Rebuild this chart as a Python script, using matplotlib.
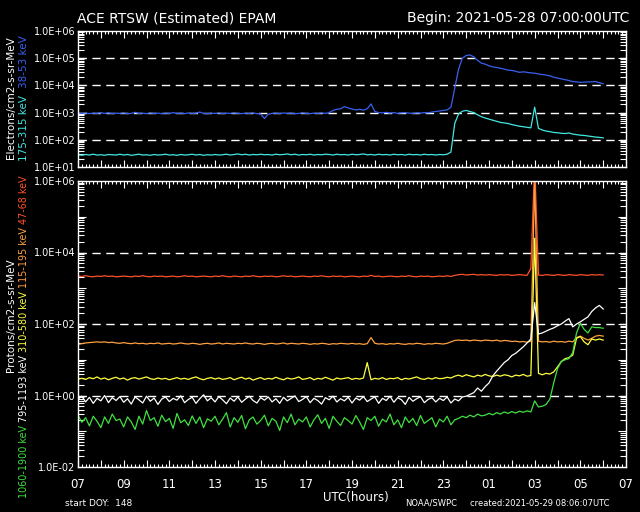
import numpy as np
import matplotlib
matplotlib.use('Agg')
import matplotlib.pyplot as plt
from matplotlib.ticker import LogLocator, FuncFormatter, MultipleLocator, NullFormatter

# time grid: 10-minute samples from 07:00 UTC (hours since start)
n_pts = 139
hours = np.arange(n_pts) / 6.0

# log10 fluxes, electrons/cm2-s-sr-MeV
e38_53 = [
    2.98, 2.97, 2.99, 2.96, 2.98, 2.97, 3.00, 2.97, 2.99, 2.96, 2.98, 2.97,
    2.99, 2.96, 2.97, 3.01, 2.97, 2.98, 2.96, 2.99, 2.97, 2.98, 2.96, 2.98,
    2.97, 3.00, 2.97, 2.98, 2.96, 2.99, 2.97, 2.98, 3.02, 2.97, 2.96, 2.98,
    2.97, 2.99, 2.96, 2.98, 2.97, 2.99, 2.97, 2.96, 2.98, 2.97, 2.99, 2.96,
    2.95, 2.78, 2.94, 2.97, 2.98, 2.96, 2.99, 2.97, 2.98, 2.96, 2.97, 2.99,
    2.97, 2.96, 2.98, 2.97, 2.99, 2.97, 3.00, 3.08, 3.12, 3.14, 3.22, 3.17,
    3.13, 3.10, 3.12, 3.09, 3.14, 3.32, 3.04, 3.00, 2.99, 3.01, 2.98, 3.00,
    2.97, 2.99, 3.00, 2.98, 2.97, 2.99, 2.98, 3.00, 2.99, 3.02, 3.04, 3.06,
    3.08, 3.10, 3.20, 3.90, 4.60, 5.00, 5.10, 5.12, 5.05, 4.92, 4.82, 4.78,
    4.72, 4.68, 4.66, 4.63, 4.60, 4.56, 4.55, 4.52, 4.48, 4.50, 4.48, 4.46,
    4.45, 4.42, 4.40, 4.38, 4.35, 4.30, 4.27, 4.24, 4.21, 4.18, 4.14, 4.13,
    4.11, 4.12, 4.13, 4.13, 4.14, 4.10, 4.06]
e175_315 = [
    1.45, 1.43, 1.46, 1.44, 1.47, 1.44, 1.45, 1.43, 1.46, 1.45, 1.44, 1.47,
    1.44, 1.46, 1.43, 1.45, 1.47, 1.44, 1.45, 1.43, 1.46, 1.44, 1.45, 1.47,
    1.44, 1.45, 1.43, 1.46, 1.44, 1.45, 1.47, 1.44, 1.46, 1.43, 1.45, 1.44,
    1.46, 1.44, 1.45, 1.47, 1.44, 1.46, 1.48, 1.45, 1.47, 1.44, 1.46, 1.45,
    1.47, 1.45, 1.46, 1.44, 1.47, 1.45, 1.46, 1.48, 1.45, 1.47, 1.44, 1.46,
    1.45, 1.47, 1.44, 1.46, 1.45, 1.47, 1.46, 1.44, 1.47, 1.45, 1.46, 1.44,
    1.47, 1.45, 1.46, 1.48, 1.45, 1.46, 1.44, 1.47, 1.45, 1.46, 1.44, 1.47,
    1.45, 1.46, 1.44, 1.47, 1.45, 1.46, 1.44, 1.47, 1.45, 1.46, 1.44, 1.46,
    1.45, 1.47, 1.55, 2.60, 2.95, 3.05, 3.08, 3.04, 3.00, 2.92, 2.85, 2.80,
    2.76, 2.72, 2.68, 2.64, 2.62, 2.60, 2.56, 2.53, 2.50, 2.48, 2.46, 2.44,
    3.20, 2.42, 2.36, 2.32, 2.30, 2.27, 2.26, 2.24, 2.23, 2.25, 2.21, 2.19,
    2.17, 2.16, 2.14, 2.12, 2.10, 2.09, 2.07]

# log10 fluxes, protons/cm2-s-sr-MeV
p47_68 = [
    3.34, 3.33, 3.35, 3.33, 3.32, 3.34, 3.33, 3.35, 3.33, 3.34, 3.32, 3.33,
    3.34, 3.33, 3.32, 3.34, 3.33, 3.35, 3.33, 3.32, 3.34, 3.33, 3.34, 3.32,
    3.33, 3.34, 3.32, 3.33, 3.35, 3.33, 3.34, 3.32, 3.33, 3.34, 3.33, 3.32,
    3.34, 3.33, 3.35, 3.33, 3.32, 3.34, 3.33, 3.32, 3.34, 3.33, 3.35, 3.33,
    3.32, 3.34, 3.33, 3.34, 3.32, 3.33, 3.35, 3.33, 3.34, 3.32, 3.33, 3.34,
    3.33, 3.32, 3.34, 3.33, 3.35, 3.33, 3.32, 3.34, 3.33, 3.34, 3.32, 3.33,
    3.34, 3.33, 3.32, 3.34, 3.33, 3.36, 3.33, 3.34, 3.32, 3.33, 3.34, 3.33,
    3.32, 3.34, 3.33, 3.35, 3.33, 3.32, 3.34, 3.33, 3.34, 3.32, 3.33, 3.34,
    3.33, 3.35, 3.33, 3.36, 3.38, 3.39, 3.37, 3.38, 3.39, 3.37, 3.38, 3.37,
    3.38, 3.37, 3.36, 3.38, 3.37, 3.38, 3.36, 3.37, 3.38, 3.37, 3.36, 3.55,
    6.50, 3.37, 3.36, 3.38, 3.37, 3.36, 3.38, 3.37, 3.36, 3.38, 3.37, 3.36,
    3.38, 3.37, 3.36, 3.38, 3.37, 3.38, 3.37]
p115_195 = [
    1.43, 1.45, 1.47, 1.48, 1.49, 1.50, 1.49, 1.50, 1.48, 1.49, 1.47, 1.46,
    1.48, 1.46, 1.45, 1.47, 1.45, 1.46, 1.44, 1.46, 1.45, 1.47, 1.44, 1.45,
    1.46, 1.44, 1.45, 1.47, 1.45, 1.44, 1.46, 1.45, 1.43, 1.45, 1.46, 1.44,
    1.45, 1.47, 1.44, 1.46, 1.45, 1.44, 1.46, 1.45, 1.47, 1.45, 1.44, 1.46,
    1.45, 1.43, 1.45, 1.46, 1.44, 1.45, 1.47, 1.44, 1.46, 1.45, 1.44, 1.46,
    1.45, 1.43, 1.45, 1.44, 1.46, 1.45, 1.43, 1.45, 1.44, 1.46, 1.45, 1.44,
    1.46, 1.44, 1.45, 1.43, 1.45, 1.62, 1.46, 1.44, 1.45, 1.43, 1.45, 1.44,
    1.46, 1.44, 1.43, 1.45, 1.44, 1.46, 1.45, 1.43, 1.45, 1.44, 1.46, 1.45,
    1.44, 1.46, 1.50, 1.54, 1.55, 1.54, 1.55, 1.53, 1.55, 1.54, 1.53, 1.55,
    1.54, 1.53, 1.55, 1.52, 1.54, 1.53, 1.51, 1.52, 1.50, 1.51, 1.49, 1.52,
    6.00, 1.52, 1.50, 1.51, 1.49, 1.52, 1.50, 1.51, 1.49, 1.52, 1.50, 1.62,
    1.66, 1.60, 1.55, 1.60, 1.66, 1.68, 1.66]
p310_580 = [
    0.46, 0.48, 0.45, 0.50, 0.47, 0.52, 0.46, 0.49, 0.44, 0.48, 0.51, 0.46,
    0.49, 0.43, 0.48, 0.50, 0.46, 0.49, 0.52, 0.47, 0.45, 0.49, 0.46, 0.48,
    0.44, 0.47, 0.50, 0.46, 0.48, 0.45, 0.49, 0.52, 0.47, 0.44, 0.48, 0.50,
    0.46, 0.49, 0.45, 0.47, 0.50, 0.44, 0.48, 0.51, 0.46, 0.49, 0.43, 0.47,
    0.50, 0.45, 0.48, 0.46, 0.51, 0.47, 0.44, 0.49, 0.46, 0.48, 0.52, 0.45,
    0.47, 0.50, 0.44, 0.48, 0.46, 0.51, 0.47, 0.43, 0.49, 0.46, 0.48, 0.50,
    0.45, 0.48, 0.46, 0.49, 0.92, 0.44, 0.48, 0.46, 0.50, 0.45, 0.48, 0.47,
    0.50, 0.44, 0.48, 0.46, 0.49, 0.52, 0.47, 0.45, 0.49, 0.46, 0.50, 0.47,
    0.48, 0.51, 0.49, 0.54, 0.57, 0.53, 0.58, 0.55, 0.52, 0.57, 0.54, 0.59,
    0.55, 0.53, 0.57, 0.54, 0.58, 0.56, 0.52, 0.57, 0.55, 0.59, 0.54, 0.56,
    4.40, 0.62, 0.58, 0.62, 0.60, 0.66, 0.80, 0.95, 1.03, 1.06, 1.13, 1.60,
    1.65, 1.50, 1.42, 1.58, 1.55, 1.58, 1.55]
p795_1193 = [
    -0.10, -0.02, -0.18, -0.05, -0.22, -0.08, -0.15, 0.00, -0.20, -0.06, -0.14, -0.03,
    -0.19, -0.09, -0.24, -0.04, -0.12, -0.21, -0.02, -0.16, -0.07, -0.25, -0.10, -0.04,
    -0.17, -0.08, -0.13, -0.01, -0.20, -0.11, -0.05, -0.22, -0.09, 0.02, -0.15, -0.06,
    -0.18, -0.03, -0.12, -0.23, -0.07, -0.16, -0.04, -0.19, -0.10, -0.02, -0.14, -0.21,
    -0.06, -0.13, -0.04, -0.18, -0.09, -0.22, -0.05, -0.15, -0.08, -0.01, -0.17, -0.11,
    -0.03, -0.20, -0.08, -0.14, -0.24, -0.06, -0.12, -0.02, -0.18, -0.09, -0.15, -0.05,
    -0.21, -0.07, -0.13, -0.03, -0.17, -0.10, -0.04, -0.22, -0.08, -0.14, -0.02, -0.19,
    -0.06, -0.12, -0.25, -0.05, -0.16, -0.09, -0.03, -0.20, -0.11, -0.06, -0.18, -0.08,
    -0.14, -0.04, -0.21, -0.10, -0.15, -0.04, -0.02, 0.03, 0.08, 0.21, 0.12, 0.25,
    0.35, 0.55, 0.68, 0.80, 0.92, 1.00, 1.12, 1.18, 1.27, 1.36, 1.47, 1.58,
    2.60, 1.72, 1.75, 1.80, 1.85, 1.89, 1.95, 2.00, 2.08, 2.15, 1.92, 2.00,
    2.06, 2.13, 2.20, 2.35, 2.45, 2.52, 2.42]
p1060_1900 = [
    -0.55, -0.75, -0.62, -0.85, -0.58, -0.72, -0.90, -0.60, -0.78, -0.52, -0.70, -0.66,
    -0.88, -0.60, -0.74, -0.95, -0.58, -0.80, -0.42, -0.70, -0.62, -0.86, -0.55, -0.73,
    -0.64, -0.92, -0.50, -0.76, -0.68, -0.84, -0.57, -0.78, -0.60, -0.90, -0.65, -0.72,
    -0.58, -0.82, -0.66, -0.48, -0.88, -0.62, -0.75, -0.56, -0.93, -0.68, -0.60, -0.80,
    -0.70, -0.55, -0.85, -0.64, -0.72, -0.98, -0.60, -0.76, -0.52, -0.82, -0.66, -0.74,
    -0.60, -0.88, -0.68, -0.54, -0.78, -0.64, -0.92, -0.58, -0.72, -0.84, -0.62, -0.70,
    -0.80, -0.56, -0.74, -0.95, -0.62, -0.70, -0.58, -0.86, -0.66, -0.74, -0.52, -0.82,
    -0.68, -0.90, -0.60, -0.76, -0.64, -0.84, -0.56, -0.78, -0.70, -0.62, -0.88, -0.66,
    -0.74, -0.58, -0.82, -0.68, -0.64, -0.58, -0.62, -0.55, -0.60, -0.52, -0.57, -0.55,
    -0.50, -0.54, -0.48, -0.52, -0.46, -0.50, -0.45, -0.49, -0.44, -0.47, -0.43, -0.46,
    -0.15, -0.32, -0.30, -0.25, -0.10, 0.35, 0.75, 0.95, 1.00, 1.03, 1.20, 1.75,
    2.02, 1.85, 1.75, 1.92, 1.90, 1.90, 1.88]

x_labels = ['07', '09', '11', '13', '15', '17', '19', '21', '23', '01', '03', '05', '07']

top_dashes = [1e2, 1e3, 1e4, 1e5]
bot_dashes = [1e0, 1e2, 1e4]

BLUE = '#3a60f0'
CYAN = '#40e8e0'
RED = '#ff5028'
ORANGE = '#ffa040'
YELLOW = '#ffff40'
GREEN = '#40e040'

W, H = 640, 512
fig = plt.figure(figsize=(6.4, 5.12), dpi=100, facecolor='black')


def px_axes(left, top, right, bottom):
    return fig.add_axes([left / W, 1 - bottom / H, (right - left) / W, (bottom - top) / H])


def style_axes(ax, label_every_other):
    ax.set_facecolor('black')
    ax.set_yscale('log')
    ax.set_xlim(0, 24)
    for sp in ax.spines.values():
        sp.set_color('white')
        sp.set_linewidth(1)
    ax.yaxis.set_major_locator(LogLocator(base=10, numticks=20))
    ax.yaxis.set_minor_locator(LogLocator(base=10, subs=np.arange(2, 10), numticks=20))
    ax.yaxis.set_minor_formatter(NullFormatter())

    def fmt(v, p):
        e = int(round(np.log10(v)))
        if label_every_other and e % 2:
            return ''
        return '%.1E' % v
    ax.yaxis.set_major_formatter(FuncFormatter(fmt))
    ax.xaxis.set_major_locator(MultipleLocator(1))
    ax.xaxis.set_minor_locator(MultipleLocator(1 / 6))
    ax.tick_params(which='both', direction='in', colors='white', top=True, right=True,
                   labelsize=7, pad=2, width=0.8)
    ax.tick_params(which='major', length=6)
    ax.tick_params(which='minor', length=4)
    ax.tick_params(axis='x', which='minor', length=2.5)
    ax.tick_params(axis='x', which='major', length=5)


# electrons panel
ax1 = px_axes(78, 31, 626, 167)
style_axes(ax1, False)
ax1.set_ylim(1e1, 1e6)
for yv in top_dashes:
    ax1.axhline(yv, color='white', lw=1, dashes=(6, 4))
ax1.plot(hours, 10 ** np.array(e38_53), color=BLUE, lw=0.9)
ax1.plot(hours, 10 ** np.array(e175_315), color=CYAN, lw=0.9)
ax1.tick_params(axis='x', labelbottom=False)

# protons panel
ax2 = px_axes(78, 181, 626, 467)
style_axes(ax2, True)
ax2.set_ylim(1e-2, 1e6)
for yv in bot_dashes:
    ax2.axhline(yv, color='white', lw=1, dashes=(6, 4))
ax2.plot(hours, 10 ** np.array(p47_68), color=RED, lw=0.9)
ax2.plot(hours, 10 ** np.array(p115_195), color=ORANGE, lw=0.9)
ax2.plot(hours, 10 ** np.array(p310_580), color=YELLOW, lw=0.9)
ax2.plot(hours, 10 ** np.array(p795_1193), color='white', lw=0.9)
ax2.plot(hours, 10 ** np.array(p1060_1900), color=GREEN, lw=0.9)
ax2.set_xticks(list(range(0, 25)))
ax2.set_xticklabels([x_labels[h // 2] if h % 2 == 0 else '' for h in range(0, 25)])
ax2.tick_params(axis='x', labelsize=8.5, pad=8)

# titles and footer
fig.text(77 / W, 1 - 18 / H, 'ACE RTSW (Estimated) EPAM', color='white', fontsize=10,
         ha='left', va='center')
fig.text(629 / W, 1 - 18 / H, 'Begin: 2021-05-28 07:00:00UTC', color='white', fontsize=10,
         ha='right', va='center')
fig.text(65 / W, 1 - 503 / H, 'start DOY:  148', color='white', fontsize=6.5, ha='left', va='center')
fig.text(356 / W, 1 - 497 / H, 'UTC(hours)', color='white', fontsize=8.5, ha='center', va='center')
fig.text(405 / W, 1 - 503 / H, 'NOAA/SWPC', color='white', fontsize=6, ha='left', va='center')
fig.text(470 / W, 1 - 503 / H, 'created:2021-05-29 08:06:07UTC', color='white', fontsize=6,
         ha='left', va='center')

# vertical axis labels, built from coloured pieces stacked bottom to top
renderer = fig.canvas.get_renderer()


def stacked_label(x_px, yc_px, pieces, size):
    texts = []
    total = 0
    for s, c in pieces:
        t = fig.text(x_px / W, 0, s, color=c, fontsize=size, rotation=90,
                     ha='center', va='bottom')
        h = t.get_window_extent(renderer).height
        texts.append((t, h))
        total += h
    y = (H - yc_px) - total / 2
    for t, h in texts:
        t.set_y(y / H)
        y += h


stacked_label(11, 98, [('Electrons/cm2-s-sr-MeV', 'white')], 7.5)
stacked_label(24, 98, [('175-315 keV  ', CYAN), ('38-53 keV', BLUE)], 7.5)
stacked_label(11, 315, [('Protons/cm2-s-sr-MeV', 'white')], 7.5)
stacked_label(24, 337, [('1060-1900 keV ', GREEN), ('795-1193 keV ', 'white'),
                        ('310-580 keV ', YELLOW), ('115-195 keV ', ORANGE),
                        ('47-68 keV', RED)], 6.9)

fig.savefig('out.png', dpi=100, facecolor='black')
